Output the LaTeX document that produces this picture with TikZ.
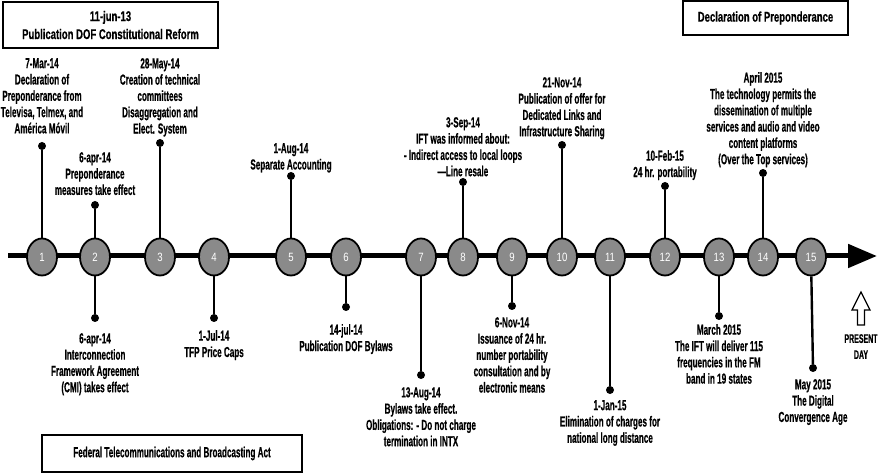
\documentclass[tikz,border=0pt]{standalone}
\usepackage{fontspec}
\setmainfont{Liberation Sans}[FakeStretch=0.56,BoldFeatures={FakeBold=0.5}]
\newfontfamily\boxfont{Liberation Sans}[FakeStretch=0.68,BoldFeatures={FakeBold=0.5}]
\newfontfamily\numfont{Liberation Sans}[FakeStretch=0.8]
\usetikzlibrary{shapes.geometric,arrows.meta}
\definecolor{evgray}{HTML}{8A8A8A}
\begin{document}
\begin{tikzpicture}[x=1pt,y=-1pt,
  ev/.style={ellipse,draw=black,line width=1.8pt,fill=evgray,minimum width=30pt,minimum height=37pt,inner sep=0pt,text=white,font={\numfont\fontsize{12}{13}\selectfont}},
  dot/.style={circle,fill=black,minimum size=8pt,inner sep=0pt},
  stem/.style={line width=2.4pt},
  lbl/.style={align=center,inner sep=0pt,font={\bfseries\fontsize{14.5}{16.3}\selectfont}},
  up/.style={lbl,anchor=north},
  dn/.style={lbl,anchor=north},
  box/.style={draw=black,line width=1.5pt,align=center,inner sep=0pt},
  tl/.style={line width=5pt}
]
\useasboundingbox (0,0) rectangle (879,473);
% boxes
\node[box,minimum width=215pt,minimum height=46pt,font={\boxfont\bfseries\fontsize{14}{18}\selectfont}] (b1) at (110.5,25) {11-jun-13\\Publication DOF Constitutional Reform};
\node[box,minimum width=165pt,minimum height=34pt,font={\boxfont\bfseries\fontsize{14}{18}\selectfont}] (b2) at (765.5,18) {Declaration of Preponderance};
\node[box,minimum width=260pt,minimum height=37pt,font={\bfseries\fontsize{14.5}{18}\selectfont}] (b3) at (172,453.5) {Federal Telecommunications and Broadcasting Act};
% timeline
\coordinate (tstart) at (8,256);
\coordinate (ttip) at (877,256);
\draw[tl,-{Triangle[length=29pt,width=23pt]}] (tstart) -- (ttip);
% dots
\node[dot] (d1) at (42,146) {};
\node[dot] (d2u) at (95,205) {};
\node[dot] (d2d) at (95,318) {};
\node[dot] (d3) at (160,143) {};
\node[dot] (d4) at (214,318) {};
\node[dot] (d5) at (291,176) {};
\node[dot] (d6) at (346,307) {};
\node[dot] (d7) at (421,375) {};
\node[dot] (d8) at (463,182) {};
\node[dot] (d9) at (512,306) {};
\node[dot] (d10) at (562,145) {};
\node[dot] (d11) at (610,390) {};
\node[dot] (d12) at (665,186) {};
\node[dot] (d13) at (719,316) {};
\node[dot] (d14) at (763,173) {};
\node[dot] (d15) at (813,368) {};
% events
\node[ev] (e1) at (42,257) {1};
\node[ev] (e2) at (95,257) {2};
\node[ev] (e3) at (160,257) {3};
\node[ev] (e4) at (214,257) {4};
\node[ev] (e5) at (291,257) {5};
\node[ev] (e6) at (346,257) {6};
\node[ev] (e7) at (421,257) {7};
\node[ev] (e8) at (463,257) {8};
\node[ev] (e9) at (512,257) {9};
\node[ev] (e10) at (562,257) {10};
\node[ev] (e11) at (610,257) {11};
\node[ev] (e12) at (665,257) {12};
\node[ev] (e13) at (719,257) {13};
\node[ev] (e14) at (763,257) {14};
\node[ev] (e15) at (811,257) {15};
% stems
\foreach \a/\b in {e1/d1,e2/d2u,e2/d2d,e3/d3,e4/d4,e5/d5,e6/d6,e7/d7,e8/d8,e9/d9,e10/d10,e11/d11,e12/d12,e13/d13,e14/d14,e15/d15}
  \draw[stem] (\a) -- (\b);
% labels above
\node[up] (l1) at (42,58) {7-Mar-14\\Declaration of\\Preponderance from\\Televisa, Telmex, and\\América Móvil};
\node[up] (l2u) at (95,152) {6-apr-14\\Preponderance\\measures take effect};
\node[up] (l3) at (160,58) {28-May-14\\Creation of technical\\committees\\Disaggregation and\\Elect. System};
\node[up] (l5) at (291,143) {1-Aug-14\\Separate Accounting};
\node[up] (l8) at (463,117) {3-Sep-14\\IFT was informed about:\\- Indirect access to local loops\\—Line resale};
\node[up] (l10) at (562,77) {21-Nov-14\\Publication of offer for\\Dedicated Links and\\Infrastructure Sharing};
\node[up] (l12) at (665,150) {10-Feb-15\\24 hr. portability};
\node[up] (l14) at (763,72) {April 2015\\The technology permits the\\dissemination of multiple\\services and audio and video\\content platforms\\(Over the Top services)};
% labels below
\node[dn] (l2d) at (95,333) {6-apr-14\\Interconnection\\Framework Agreement\\(CMI) takes effect};
\node[dn] (l4) at (214,330) {1-Jul-14\\TFP Price Caps};
\node[dn] (l6) at (346,324) {14-jul-14\\Publication DOF Bylaws};
\node[dn] (l7) at (421,387) {13-Aug-14\\Bylaws take effect.\\Obligations: - Do not charge\\termination in INTX};
\node[dn] (l9) at (512,317) {6-Nov-14\\Issuance of 24 hr.\\number portability\\consultation and by\\electronic means};
\node[dn] (l11) at (610,400) {1-Jan-15\\Elimination of charges for\\national long distance};
\node[dn] (l13) at (719,324) {March 2015\\The IFT will deliver 115\\frequencies in the FM\\band in 19 states};
\node[dn] (l15) at (813,379) {May 2015\\The Digital\\Convergence Age};
% present day
\draw[line width=1.3pt,fill=white] (857.5,325) -- (857.5,310) -- (852,310) -- (861,292) -- (870,310) -- (864.5,310) -- (864.5,325) -- cycle;
\node[dn,font={\bfseries\fontsize{12.5}{16}\selectfont}] (pd) at (861,334) {PRESENT\\DAY};
\end{tikzpicture}
\end{document}
